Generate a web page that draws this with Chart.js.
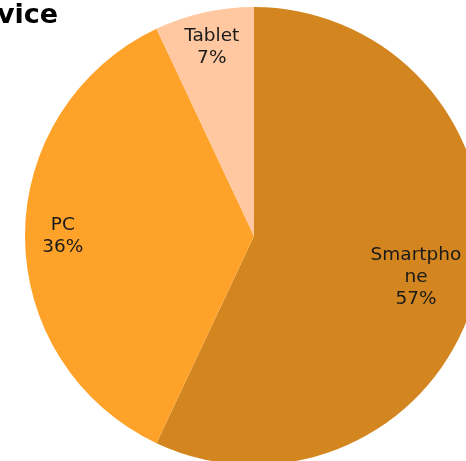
<!DOCTYPE html>
<html>
<head>
<meta charset="utf-8">
<script src="https://cdn.jsdelivr.net/npm/chart.js@4"></script>
<style>
  html, body { margin: 0; padding: 0; background: #fff; overflow: hidden; }
  #wrap { position: absolute; left: 0; top: 0; }
</style>
</head>
<body>
<div id="wrap"><canvas id="deviceChart" width="508" height="472"></canvas></div>
<script>
// data
const titleText = "vice";
const devices = ["Smartphone", "PC", "Tablet"];
const shares = [57, 36, 7];
const sliceColors = ["#D3861F", "#FFA229", "#FFC8A0"];

// where each inside label sits, as a fraction of the radius
const labelRadius = [0.73, 0.835, 0.845];

function wrapChars(ctx, text, maxWidth) {
  const lines = [];
  let cur = "";
  for (const ch of text) {
    if (cur && ctx.measureText(cur + ch).width > maxWidth) {
      lines.push(cur);
      cur = ch;
    } else {
      cur += ch;
    }
  }
  if (cur) lines.push(cur);
  return lines;
}

const sliceLabels = {
  id: "sliceLabels",
  afterDatasetsDraw(chart) {
    const ctx = chart.ctx;
    const meta = chart.getDatasetMeta(0);
    ctx.save();
    ctx.font = "18.5px 'DejaVu Sans'";
    ctx.fillStyle = "#1a1a1a";
    ctx.textAlign = "center";
    ctx.textBaseline = "middle";
    meta.data.forEach((arc, i) => {
      const p = arc.getProps(["x", "y", "startAngle", "endAngle", "outerRadius"], true);
      const mid = (p.startAngle + p.endAngle) / 2 + (i === 0 ? 0.03 : 0);
      const r = p.outerRadius * labelRadius[i];
      const cx = p.x + Math.cos(mid) * r;
      const cy = p.y + Math.sin(mid) * r;
      const lines = wrapChars(ctx, devices[i], 95);
      lines.push(shares[i] + "%");
      const lh = 22;
      const top = cy - (lines.length - 1) * lh / 2;
      lines.forEach((ln, k) => ctx.fillText(ln, cx, top + k * lh));
    });
    ctx.restore();
  }
};

const cornerTitle = {
  id: "cornerTitle",
  afterDraw(chart) {
    const ctx = chart.ctx;
    ctx.save();
    ctx.font = "bold 27px 'DejaVu Sans'";
    ctx.fillStyle = "#000";
    ctx.textAlign = "left";
    ctx.textBaseline = "alphabetic";
    ctx.fillText(titleText, -3, 23);
    ctx.restore();
  }
};

new Chart(document.getElementById("deviceChart"), {
  type: "pie",
  data: {
    labels: devices,
    datasets: [{
      data: shares,
      backgroundColor: sliceColors,
      borderWidth: 0,
    }],
  },
  options: {
    responsive: false,
    animation: false,
    layout: { padding: 7 },
    plugins: {
      legend: { display: false },
      tooltip: { enabled: false },
      title: { display: false },
    },
  },
  plugins: [sliceLabels, cornerTitle],
});
</script>
</body>
</html>
